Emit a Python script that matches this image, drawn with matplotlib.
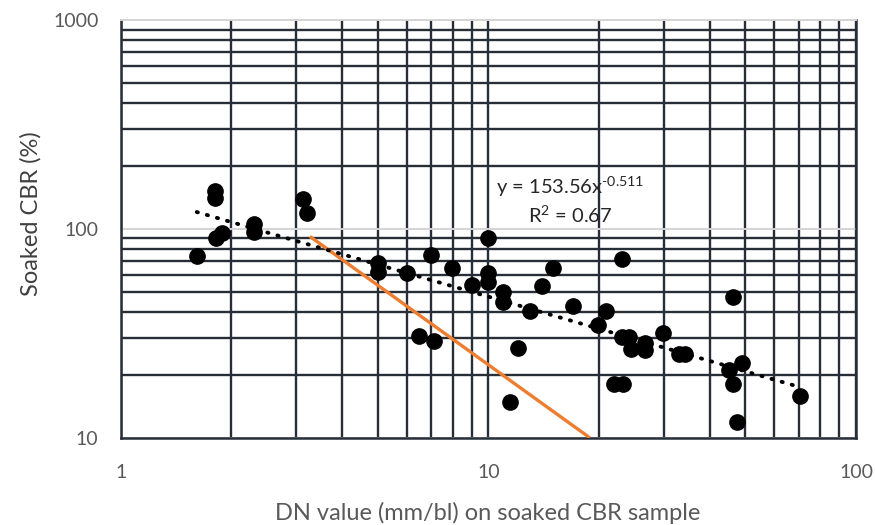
import matplotlib
matplotlib.use("Agg")
import matplotlib.pyplot as plt
import numpy as np
from matplotlib.ticker import LogLocator, NullFormatter, FixedLocator, FixedFormatter

plt.rcParams['font.family'] = ['Lato', 'DejaVu Sans']
plt.rcParams['mathtext.fontset'] = 'custom'
plt.rcParams['mathtext.rm'] = 'Lato'
plt.rcParams['mathtext.default'] = 'rm'

# DN value (mm/blow) and soaked CBR (%) for each sample
dn_values = [1.61, 1.80, 1.80, 1.82, 1.89, 2.30, 2.30, 3.13, 3.21,
             5.0, 5.0, 6.0, 6.98, 7.98, 9.01, 6.49, 7.13,
             10.0, 10.0, 10.0, 10.98, 10.98, 12.96, 14.0, 14.95, 16.97,
             12.04, 11.46, 23.07, 20.9, 19.88, 23.07, 24.14, 24.37,
             26.7, 26.7, 21.98, 23.2, 29.9, 33.1, 34.2,
             46.2, 45.2, 48.9, 46.2, 47.4, 70.2]
cbr_values = [74.4, 152.4, 140.2, 90.2, 95.9, 105.6, 97.0, 138.6, 119.6,
              68.4, 62.4, 61.7, 75.0, 64.8, 53.6, 30.8, 29.0,
              90.2, 61.7, 55.9, 50.0, 44.4, 40.3, 53.4, 64.8, 42.8,
              27.0, 14.9, 71.8, 40.4, 34.8, 30.5, 30.4, 26.6,
              28.3, 26.3, 18.0, 18.0, 31.7, 25.3, 25.3,
              47.2, 21.1, 22.9, 18.0, 11.9, 15.8]

# Power-law fit reported on the chart: CBR = a * DN^b
fit_a = 153.56
fit_b = -0.511
fit_r2 = 0.67

# Reference correlation line (end points)
ref_dn = [3.27, 18.87]
ref_cbr = [92.0, 10.0]

x_ticks = [1, 10, 100]
x_tick_labels = ["1", "10", "100"]
y_ticks = [10, 100, 1000]
y_tick_labels = ["10", "100", "1000"]

grid_dark = "#272e38"
grid_light = "#d4d4d4"
text_gray = "#595959"

fig = plt.figure(figsize=(8.75, 5.25), dpi=100)
ax = fig.add_axes([120.7 / 875, 1 - 437.7 / 525, (856 - 120.7) / 875, (437.7 - 20) / 525])
ax.set_xscale("log")
ax.set_yscale("log")
ax.set_xlim(1, 100)
ax.set_ylim(10, 1000)

# grid: dark minor lines, light major horizontal lines
ax.xaxis.set_minor_locator(LogLocator(base=10, subs=np.arange(2, 10)))
ax.yaxis.set_minor_locator(LogLocator(base=10, subs=np.arange(2, 10)))
ax.xaxis.set_minor_formatter(NullFormatter())
ax.yaxis.set_minor_formatter(NullFormatter())
ax.grid(which="minor", axis="both", color=grid_dark, linewidth=1.7)
ax.grid(which="major", axis="x", color=grid_dark, linewidth=1.7)
ax.grid(which="major", axis="y", color=grid_light, linewidth=1.4)
ax.set_axisbelow(True)

ax.xaxis.set_major_locator(FixedLocator(x_ticks))
ax.xaxis.set_major_formatter(FixedFormatter(x_tick_labels))
ax.yaxis.set_major_locator(FixedLocator(y_ticks))
ax.yaxis.set_major_formatter(FixedFormatter(y_tick_labels))
ax.tick_params(which="both", length=0)
ax.tick_params(axis="x", pad=19, labelsize=14, labelcolor=text_gray)
ax.tick_params(axis="y", pad=16, labelsize=14, labelcolor=text_gray)

for side in ("left", "bottom", "right"):
    ax.spines[side].set_color(grid_dark)
    ax.spines[side].set_linewidth(1.8)
ax.spines["top"].set_color(grid_light)
ax.spines["top"].set_linewidth(1.4)

# data points
ax.plot(dn_values, cbr_values, "o", color="black", markersize=11, zorder=4)

# power trend line across the data range
fit_x = np.logspace(np.log10(min(dn_values)), np.log10(max(dn_values)), 200)
ax.plot(fit_x, fit_a * fit_x ** fit_b, color="black", linewidth=2.8,
        linestyle=(0, (0.3, 2.4)), dash_capstyle="round", zorder=5)

# reference correlation
ax.plot(ref_dn, ref_cbr, color="#ed7d31", linewidth=2.4, zorder=3,
        solid_capstyle="butt")

eq_label = r"y = %.2fx$^{\text{%.3f}}$" % (fit_a, fit_b)
ax.text(16.7, 158, eq_label, ha="center", va="center",
        fontsize=14.5, color="#262626", zorder=6)
ax.text(16.7, 116, r"R$^{2}$ = %.2f" % fit_r2, ha="center", va="center",
        fontsize=14.5, color="#262626", zorder=6)

fig.text(488 / 875, 1 - 513 / 525, "DN value (mm/bl) on soaked CBR sample",
         fontsize=17, color=text_gray, ha="center", va="center")
fig.text(31 / 875, 1 - 214 / 525, "Soaked CBR (%)", rotation=90,
         fontsize=17, color="#404040", ha="center", va="center")

fig.savefig("out.png", dpi=100)
